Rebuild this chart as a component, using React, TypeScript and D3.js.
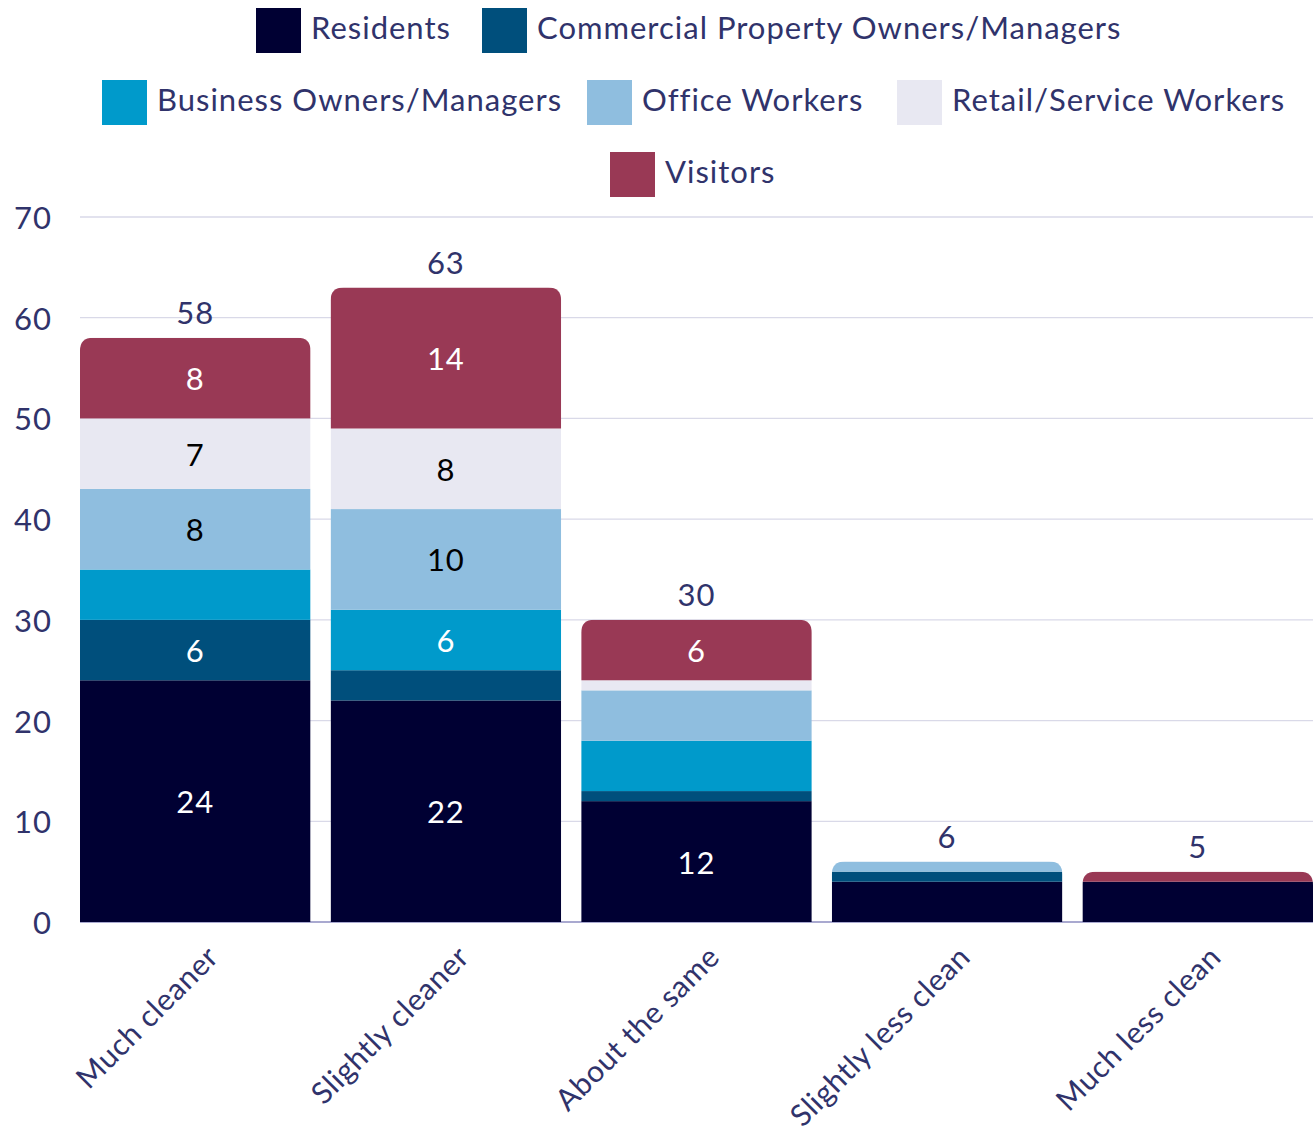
import React from "react";
import * as d3 from "d3";

const categories = ["Much cleaner", "Slightly cleaner", "About the same", "Slightly less clean", "Much less clean"];
const seriesNames = ["Residents", "Commercial Property Owners/Managers", "Business Owners/Managers", "Office Workers", "Retail/Service Workers", "Visitors"];
const residents = [24, 22, 12, 4, 4];
const commercialOwners = [6, 3, 1, 1, 0];
const businessOwners = [5, 6, 5, 0, 0];
const officeWorkers = [8, 10, 5, 1, 0];
const retailWorkers = [7, 8, 1, 0, 0];
const visitors = [8, 14, 6, 0, 1];
const yTicks = [0, 10, 20, 30, 40, 50, 60, 70];

const seriesValues = [residents, commercialOwners, businessOwners, officeWorkers, retailWorkers, visitors];
const colors = ["#000033", "#004f7c", "#009acb", "#8fbedf", "#e8e8f2", "#993955"];
const labelColors = ["#ffffff", "#ffffff", "#ffffff", "#000000", "#000000", "#ffffff"];

const W = 1314, H = 1141;
const FONT = "Lato, 'Open Sans', sans-serif";
const NAVY = "#30336b";
const LS = 1.0;

const legendRows = [
  { y: 8, items: [{ i: 0, x: 256 }, { i: 1, x: 482 }] },
  { y: 80, items: [{ i: 2, x: 102 }, { i: 3, x: 587 }, { i: 4, x: 897 }] },
  { y: 152, items: [{ i: 5, x: 610 }] },
];

function roundedTop(x: number, y: number, w: number, h: number, r: number) {
  return `M${x},${y + h}V${y + r}Q${x},${y} ${x + r},${y}H${x + w - r}Q${x + w},${y} ${x + w},${y + r}V${y + h}Z`;
}

export default function App() {
  const x = d3.scaleBand().domain(categories).range([80, 1313]).paddingInner(0.08).paddingOuter(0);
  const y = d3.scaleLinear().domain([0, 70]).range([922, 217]);
  const table = categories.map((c, ci) => {
    const row: any = { cat: c };
    seriesNames.forEach((s, si) => (row[s] = seriesValues[si][ci]));
    return row;
  });
  const stacked = d3.stack().keys(seriesNames)(table);
  const totals = categories.map((_, ci) => d3.sum(seriesValues, (v) => v[ci]));
  const bw = x.bandwidth();

  return (
    <svg width={W} height={H} style={{ position: "absolute", left: 0, top: 0, background: "#fff" }} fontFamily={FONT} letterSpacing={LS}>
      <defs>
        {categories.map((c, ci) => (
          <clipPath id={`clip${ci}`} key={c}>
            <path d={roundedTop(x(c)!, y(totals[ci]), bw, y(0) - y(totals[ci]), 13)} />
          </clipPath>
        ))}
      </defs>
      {/* legend */}
      {legendRows.map((row, ri) =>
        row.items.map((it) => (
          <g key={`${ri}-${it.i}`}>
            <rect x={it.x} y={row.y} width={45} height={45} fill={colors[it.i]} />
            <text x={it.x + 55} y={row.y + 19} dominantBaseline="central" fontSize={31} fill={NAVY}>
              {seriesNames[it.i]}
            </text>
          </g>
        ))
      )}
      {/* grid */}
      {yTicks.map((t) => (
        <g key={t}>
          {t > 0 && <line x1={80} x2={1313} y1={y(t)} y2={y(t)} stroke="#d9d9e8" strokeWidth={1.3} />}
          <text x={52} y={y(t)} textAnchor="end" dominantBaseline="central" fontSize={31} fill={NAVY}>
            {t}
          </text>
        </g>
      ))}
      <line x1={80} x2={1313} y1={y(0)} y2={y(0)} stroke="#8c8cc0" strokeWidth={1.5} />
      {/* bars */}
      {categories.map((c, ci) => (
        <g key={c} clipPath={`url(#clip${ci})`}>
          {stacked.map((s, si) => {
            const d = s[ci];
            if (d[1] - d[0] <= 0) return null;
            return <rect key={si} x={x(c)} y={y(d[1])} width={bw} height={y(d[0]) - y(d[1])} fill={colors[si]} />;
          })}
        </g>
      ))}
      {/* segment labels */}
      {categories.map((c, ci) =>
        stacked.map((s, si) => {
          const d = s[ci];
          const v = d[1] - d[0];
          if (v < 6) return null;
          return (
            <text key={`${c}-${si}`} x={x(c)! + bw / 2} y={(y(d[0]) + y(d[1])) / 2} textAnchor="middle" dominantBaseline="central" fontSize={31} fill={labelColors[si]}>
              {v}
            </text>
          );
        })
      )}
      {/* totals */}
      {categories.map((c, ci) => (
        <text key={c} x={x(c)! + bw / 2} y={y(totals[ci]) - 14} textAnchor="middle" fontSize={31} fill={NAVY}>
          {totals[ci]}
        </text>
      ))}
      {/* x labels */}
      {categories.map((c) => {
        const cx = x(c)! + bw / 2 + 8;
        const cy = 942;
        return (
          <text key={c} transform={`translate(${cx},${cy}) rotate(-45)`} textAnchor="end" dominantBaseline="hanging" fontSize={30} letterSpacing={0.6} fill={NAVY}>
            {c}
          </text>
        );
      })}
    </svg>
  );
}
